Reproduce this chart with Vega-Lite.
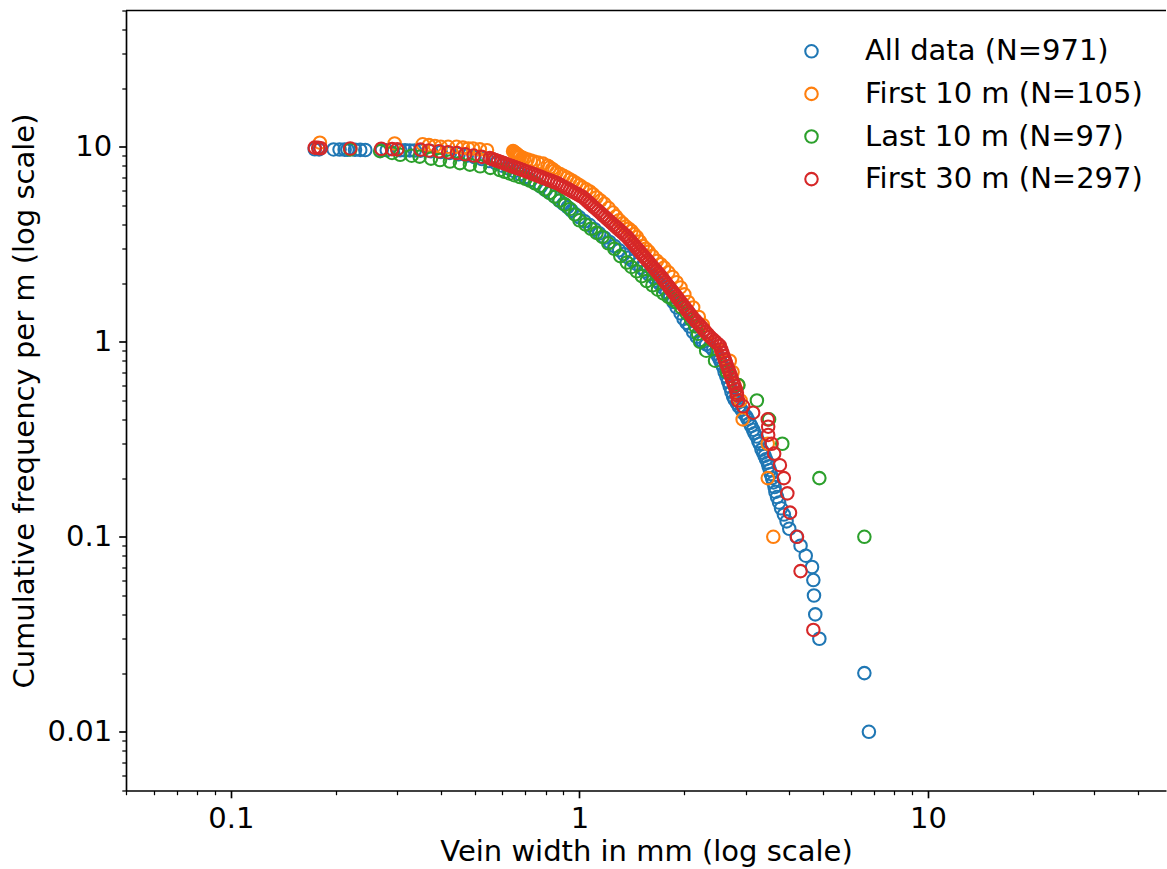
{
"$schema": "https://vega.github.io/schema/vega-lite/v6.json",
"width": 1040, "height": 780,
"autosize": {"type": "none"},
"padding": {"left": 126, "top": 10.5, "right": 1, "bottom": 78.5},
"background": "white",
"config": {"view": {"stroke": null}, "font": "DejaVu Sans"},
"datasets": {
"veins": [
{"series":"All data (N=971)","width":0.174,"freq":9.71},{"series":"All data (N=971)","width":0.179,"freq":9.70},{"series":"All data (N=971)","width":0.197,"freq":9.69},{"series":"All data (N=971)","width":0.205,"freq":9.68},{"series":"All data (N=971)","width":0.212,"freq":9.67},{"series":"All data (N=971)","width":0.216,"freq":9.66},{"series":"All data (N=971)","width":0.227,"freq":9.65},{"series":"All data (N=971)","width":0.235,"freq":9.64},{"series":"All data (N=971)","width":0.243,"freq":9.63},{"series":"All data (N=971)","width":0.271,"freq":9.62},{"series":"All data (N=971)","width":0.280,"freq":9.61},{"series":"All data (N=971)","width":0.306,"freq":9.60},{"series":"All data (N=971)","width":0.316,"freq":9.59},{"series":"All data (N=971)","width":0.326,"freq":9.58},{"series":"All data (N=971)","width":0.337,"freq":9.57},
{"series":"All data (N=971)","width":0.35,"freq":9.55},{"series":"All data (N=971)","width":0.375,"freq":9.48},{"series":"All data (N=971)","width":0.40,"freq":9.4},{"series":"All data (N=971)","width":0.425,"freq":9.3},{"series":"All data (N=971)","width":0.45,"freq":9.15},{"series":"All data (N=971)","width":0.475,"freq":9.0},{"series":"All data (N=971)","width":0.50,"freq":8.85},{"series":"All data (N=971)","width":0.525,"freq":8.65},{"series":"All data (N=971)","width":0.55,"freq":8.45},{"series":"All data (N=971)","width":0.575,"freq":8.25},{"series":"All data (N=971)","width":0.60,"freq":8.0},{"series":"All data (N=971)","width":0.625,"freq":7.75},{"series":"All data (N=971)","width":0.65,"freq":7.5},{"series":"All data (N=971)","width":0.675,"freq":7.25},{"series":"All data (N=971)","width":0.70,"freq":7.0},{"series":"All data (N=971)","width":0.725,"freq":6.75},{"series":"All data (N=971)","width":0.75,"freq":6.5},{"series":"All data (N=971)","width":0.775,"freq":6.25},{"series":"All data (N=971)","width":0.80,"freq":6.0},{"series":"All data (N=971)","width":0.825,"freq":5.8},{"series":"All data (N=971)","width":0.85,"freq":5.55},{"series":"All data (N=971)","width":0.875,"freq":5.3},{"series":"All data (N=971)","width":0.90,"freq":5.1},{"series":"All data (N=971)","width":0.925,"freq":4.9},{"series":"All data (N=971)","width":0.95,"freq":4.7},{"series":"All data (N=971)","width":0.975,"freq":4.5},{"series":"All data (N=971)","width":1.0,"freq":4.35},{"series":"All data (N=971)","width":1.035,"freq":4.15},{"series":"All data (N=971)","width":1.07,"freq":3.97},{"series":"All data (N=971)","width":1.105,"freq":3.78},{"series":"All data (N=971)","width":1.14,"freq":3.6},{"series":"All data (N=971)","width":1.18,"freq":3.42},{"series":"All data (N=971)","width":1.22,"freq":3.25},{"series":"All data (N=971)","width":1.26,"freq":3.1},{"series":"All data (N=971)","width":1.30,"freq":2.95},{"series":"All data (N=971)","width":1.34,"freq":2.82},{"series":"All data (N=971)","width":1.38,"freq":2.7},{"series":"All data (N=971)","width":1.42,"freq":2.6},{"series":"All data (N=971)","width":1.46,"freq":2.5},{"series":"All data (N=971)","width":1.50,"freq":2.4},{"series":"All data (N=971)","width":1.54,"freq":2.3},{"series":"All data (N=971)","width":1.58,"freq":2.22},{"series":"All data (N=971)","width":1.624,"freq":2.15},{"series":"All data (N=971)","width":1.66,"freq":2.06},{"series":"All data (N=971)","width":1.70,"freq":1.98},{"series":"All data (N=971)","width":1.74,"freq":1.89},{"series":"All data (N=971)","width":1.78,"freq":1.8},{"series":"All data (N=971)","width":1.82,"freq":1.7},{"series":"All data (N=971)","width":1.86,"freq":1.6},{"series":"All data (N=971)","width":1.90,"freq":1.5},{"series":"All data (N=971)","width":1.95,"freq":1.4},{"series":"All data (N=971)","width":1.99,"freq":1.31},{"series":"All data (N=971)","width":2.03,"freq":1.25},{"series":"All data (N=971)","width":2.07,"freq":1.2},{"series":"All data (N=971)","width":2.12,"freq":1.12},{"series":"All data (N=971)","width":2.17,"freq":1.06},{"series":"All data (N=971)","width":2.22,"freq":1.02},{"series":"All data (N=971)","width":2.26,"freq":1.0},{"series":"All data (N=971)","width":2.31,"freq":0.97},{"series":"All data (N=971)","width":2.37,"freq":0.945},{"series":"All data (N=971)","width":2.42,"freq":0.91},{"series":"All data (N=971)","width":2.47,"freq":0.874},{"series":"All data (N=971)","width":2.50,"freq":0.84},{"series":"All data (N=971)","width":2.53,"freq":0.808},{"series":"All data (N=971)","width":2.555,"freq":0.775},{"series":"All data (N=971)","width":2.58,"freq":0.746},{"series":"All data (N=971)","width":2.61,"freq":0.70},{"series":"All data (N=971)","width":2.64,"freq":0.663},{"series":"All data (N=971)","width":2.67,"freq":0.625},{"series":"All data (N=971)","width":2.70,"freq":0.59},{"series":"All data (N=971)","width":2.73,"freq":0.555},{"series":"All data (N=971)","width":2.76,"freq":0.524},{"series":"All data (N=971)","width":2.79,"freq":0.505},{"series":"All data (N=971)","width":2.83,"freq":0.485},{"series":"All data (N=971)","width":2.87,"freq":0.465},{"series":"All data (N=971)","width":2.92,"freq":0.448},{"series":"All data (N=971)","width":2.96,"freq":0.43},{"series":"All data (N=971)","width":3.01,"freq":0.414},{"series":"All data (N=971)","width":3.04,"freq":0.40},{"series":"All data (N=971)","width":3.08,"freq":0.383},{"series":"All data (N=971)","width":3.11,"freq":0.37},{"series":"All data (N=971)","width":3.15,"freq":0.354},{"series":"All data (N=971)","width":3.18,"freq":0.34},{"series":"All data (N=971)","width":3.22,"freq":0.327},{"series":"All data (N=971)","width":3.26,"freq":0.31},{"series":"All data (N=971)","width":3.29,"freq":0.30},{"series":"All data (N=971)","width":3.33,"freq":0.28},{"series":"All data (N=971)","width":3.37,"freq":0.27},{"series":"All data (N=971)","width":3.40,"freq":0.26},{"series":"All data (N=971)","width":3.43,"freq":0.25},{"series":"All data (N=971)","width":3.47,"freq":0.24},{"series":"All data (N=971)","width":3.49,"freq":0.23},{"series":"All data (N=971)","width":3.52,"freq":0.22},{"series":"All data (N=971)","width":3.54,"freq":0.21},{"series":"All data (N=971)","width":3.57,"freq":0.20},{"series":"All data (N=971)","width":3.60,"freq":0.19},{"series":"All data (N=971)","width":3.63,"freq":0.18},{"series":"All data (N=971)","width":3.65,"freq":0.17},{"series":"All data (N=971)","width":3.69,"freq":0.16},{"series":"All data (N=971)","width":3.74,"freq":0.15},{"series":"All data (N=971)","width":3.79,"freq":0.14},{"series":"All data (N=971)","width":3.86,"freq":0.13},{"series":"All data (N=971)","width":3.93,"freq":0.12},{"series":"All data (N=971)","width":4.0,"freq":0.11},{"series":"All data (N=971)","width":4.2,"freq":0.10},{"series":"All data (N=971)","width":4.31,"freq":0.09},{"series":"All data (N=971)","width":4.46,"freq":0.08},{"series":"All data (N=971)","width":4.65,"freq":0.07},{"series":"All data (N=971)","width":4.69,"freq":0.06},{"series":"All data (N=971)","width":4.71,"freq":0.05},{"series":"All data (N=971)","width":4.75,"freq":0.04},{"series":"All data (N=971)","width":4.88,"freq":0.03},{"series":"All data (N=971)","width":6.57,"freq":0.02},{"series":"All data (N=971)","width":6.77,"freq":0.01},
{"series":"First 10 m (N=105)","width":0.18,"freq":10.5},{"series":"First 10 m (N=105)","width":0.295,"freq":10.4},{"series":"First 10 m (N=105)","width":0.355,"freq":10.3},{"series":"First 10 m (N=105)","width":0.37,"freq":10.2},{"series":"First 10 m (N=105)","width":0.385,"freq":10.1},{"series":"First 10 m (N=105)","width":0.40,"freq":10.0},{"series":"First 10 m (N=105)","width":0.42,"freq":10.0},{"series":"First 10 m (N=105)","width":0.444,"freq":10.0},{"series":"First 10 m (N=105)","width":0.463,"freq":9.9},{"series":"First 10 m (N=105)","width":0.48,"freq":9.8},{"series":"First 10 m (N=105)","width":0.495,"freq":9.8},{"series":"First 10 m (N=105)","width":0.518,"freq":9.7},{"series":"First 10 m (N=105)","width":0.543,"freq":9.6},{"series":"First 10 m (N=105)","width":0.645,"freq":9.5},{"series":"First 10 m (N=105)","width":0.65,"freq":9.4},{"series":"First 10 m (N=105)","width":0.655,"freq":9.3},{"series":"First 10 m (N=105)","width":0.66,"freq":9.2},{"series":"First 10 m (N=105)","width":0.665,"freq":9.1},{"series":"First 10 m (N=105)","width":0.67,"freq":9.0},{"series":"First 10 m (N=105)","width":0.675,"freq":8.9},{"series":"First 10 m (N=105)","width":0.685,"freq":8.8},{"series":"First 10 m (N=105)","width":0.695,"freq":8.7},{"series":"First 10 m (N=105)","width":0.71,"freq":8.6},{"series":"First 10 m (N=105)","width":0.725,"freq":8.5},{"series":"First 10 m (N=105)","width":0.74,"freq":8.4},{"series":"First 10 m (N=105)","width":0.76,"freq":8.3},{"series":"First 10 m (N=105)","width":0.786,"freq":8.2},{"series":"First 10 m (N=105)","width":0.81,"freq":8.0},{"series":"First 10 m (N=105)","width":0.822,"freq":7.85},{"series":"First 10 m (N=105)","width":0.835,"freq":7.7},{"series":"First 10 m (N=105)","width":0.847,"freq":7.55},{"series":"First 10 m (N=105)","width":0.86,"freq":7.4},{"series":"First 10 m (N=105)","width":0.88,"freq":7.25},{"series":"First 10 m (N=105)","width":0.90,"freq":7.1},{"series":"First 10 m (N=105)","width":0.92,"freq":6.95},{"series":"First 10 m (N=105)","width":0.94,"freq":6.8},{"series":"First 10 m (N=105)","width":0.96,"freq":6.65},{"series":"First 10 m (N=105)","width":0.98,"freq":6.5},{"series":"First 10 m (N=105)","width":1.0,"freq":6.35},{"series":"First 10 m (N=105)","width":1.02,"freq":6.2},{"series":"First 10 m (N=105)","width":1.045,"freq":6.05},{"series":"First 10 m (N=105)","width":1.07,"freq":5.9},{"series":"First 10 m (N=105)","width":1.095,"freq":5.7},{"series":"First 10 m (N=105)","width":1.12,"freq":5.5},{"series":"First 10 m (N=105)","width":1.15,"freq":5.3},{"series":"First 10 m (N=105)","width":1.18,"freq":5.1},{"series":"First 10 m (N=105)","width":1.213,"freq":4.85},{"series":"First 10 m (N=105)","width":1.247,"freq":4.6},{"series":"First 10 m (N=105)","width":1.273,"freq":4.4},{"series":"First 10 m (N=105)","width":1.30,"freq":4.2},{"series":"First 10 m (N=105)","width":1.33,"freq":4.05},{"series":"First 10 m (N=105)","width":1.36,"freq":3.9},{"series":"First 10 m (N=105)","width":1.385,"freq":3.8},{"series":"First 10 m (N=105)","width":1.41,"freq":3.7},{"series":"First 10 m (N=105)","width":1.435,"freq":3.57},{"series":"First 10 m (N=105)","width":1.461,"freq":3.45},{"series":"First 10 m (N=105)","width":1.49,"freq":3.27},{"series":"First 10 m (N=105)","width":1.52,"freq":3.1},{"series":"First 10 m (N=105)","width":1.55,"freq":3.0},{"series":"First 10 m (N=105)","width":1.58,"freq":2.9},{"series":"First 10 m (N=105)","width":1.62,"freq":2.75},{"series":"First 10 m (N=105)","width":1.668,"freq":2.6},{"series":"First 10 m (N=105)","width":1.71,"freq":2.5},{"series":"First 10 m (N=105)","width":1.75,"freq":2.4},{"series":"First 10 m (N=105)","width":1.80,"freq":2.27},{"series":"First 10 m (N=105)","width":1.85,"freq":2.15},{"series":"First 10 m (N=105)","width":1.90,"freq":2.02},{"series":"First 10 m (N=105)","width":1.95,"freq":1.9},{"series":"First 10 m (N=105)","width":2.0,"freq":1.75},{"series":"First 10 m (N=105)","width":2.05,"freq":1.6},{"series":"First 10 m (N=105)","width":2.12,"freq":1.5},{"series":"First 10 m (N=105)","width":2.2,"freq":1.34},{"series":"First 10 m (N=105)","width":2.26,"freq":1.22},{"series":"First 10 m (N=105)","width":2.32,"freq":1.1},{"series":"First 10 m (N=105)","width":2.45,"freq":1.0},{"series":"First 10 m (N=105)","width":2.55,"freq":0.9},{"series":"First 10 m (N=105)","width":2.70,"freq":0.8},{"series":"First 10 m (N=105)","width":2.75,"freq":0.7},{"series":"First 10 m (N=105)","width":2.85,"freq":0.6},{"series":"First 10 m (N=105)","width":2.9,"freq":0.5},{"series":"First 10 m (N=105)","width":2.94,"freq":0.4},{"series":"First 10 m (N=105)","width":3.47,"freq":0.3},{"series":"First 10 m (N=105)","width":3.47,"freq":0.2},{"series":"First 10 m (N=105)","width":3.6,"freq":0.1},
{"series":"Last 10 m (N=97)","width":0.22,"freq":9.7},{"series":"Last 10 m (N=97)","width":0.268,"freq":9.5},{"series":"Last 10 m (N=97)","width":0.29,"freq":9.3},{"series":"Last 10 m (N=97)","width":0.306,"freq":9.1},{"series":"Last 10 m (N=97)","width":0.33,"freq":9.0},{"series":"Last 10 m (N=97)","width":0.348,"freq":8.9},{"series":"Last 10 m (N=97)","width":0.375,"freq":8.7},{"series":"Last 10 m (N=97)","width":0.398,"freq":8.55},{"series":"Last 10 m (N=97)","width":0.425,"freq":8.4},{"series":"Last 10 m (N=97)","width":0.454,"freq":8.25},{"series":"Last 10 m (N=97)","width":0.485,"freq":8.1},{"series":"Last 10 m (N=97)","width":0.519,"freq":7.95},{"series":"Last 10 m (N=97)","width":0.555,"freq":7.8},{"series":"Last 10 m (N=97)","width":0.591,"freq":7.6},{"series":"Last 10 m (N=97)","width":0.61,"freq":7.45},{"series":"Last 10 m (N=97)","width":0.63,"freq":7.3},{"series":"Last 10 m (N=97)","width":0.65,"freq":7.15},{"series":"Last 10 m (N=97)","width":0.675,"freq":7.0},{"series":"Last 10 m (N=97)","width":0.70,"freq":6.85},{"series":"Last 10 m (N=97)","width":0.72,"freq":6.7},{"series":"Last 10 m (N=97)","width":0.745,"freq":6.5},{"series":"Last 10 m (N=97)","width":0.77,"freq":6.3},{"series":"Last 10 m (N=97)","width":0.795,"freq":6.05},{"series":"Last 10 m (N=97)","width":0.82,"freq":5.8},{"series":"Last 10 m (N=97)","width":0.85,"freq":5.55},{"series":"Last 10 m (N=97)","width":0.877,"freq":5.3},{"series":"Last 10 m (N=97)","width":0.91,"freq":5.05},{"series":"Last 10 m (N=97)","width":0.94,"freq":4.8},{"series":"Last 10 m (N=97)","width":0.97,"freq":4.5},{"series":"Last 10 m (N=97)","width":1.0,"freq":4.2},{"series":"Last 10 m (N=97)","width":1.04,"freq":4.0},{"series":"Last 10 m (N=97)","width":1.08,"freq":3.8},{"series":"Last 10 m (N=97)","width":1.12,"freq":3.62},{"series":"Last 10 m (N=97)","width":1.164,"freq":3.45},{"series":"Last 10 m (N=97)","width":1.21,"freq":3.2},{"series":"Last 10 m (N=97)","width":1.26,"freq":3.0},{"series":"Last 10 m (N=97)","width":1.31,"freq":2.75},{"series":"Last 10 m (N=97)","width":1.368,"freq":2.55},{"series":"Last 10 m (N=97)","width":1.41,"freq":2.42},{"series":"Last 10 m (N=97)","width":1.46,"freq":2.3},{"series":"Last 10 m (N=97)","width":1.51,"freq":2.17},{"series":"Last 10 m (N=97)","width":1.56,"freq":2.05},{"series":"Last 10 m (N=97)","width":1.62,"freq":1.95},{"series":"Last 10 m (N=97)","width":1.68,"freq":1.85},{"series":"Last 10 m (N=97)","width":1.74,"freq":1.77},{"series":"Last 10 m (N=97)","width":1.80,"freq":1.7},{"series":"Last 10 m (N=97)","width":1.85,"freq":1.65},{"series":"Last 10 m (N=97)","width":1.90,"freq":1.6},{"series":"Last 10 m (N=97)","width":1.96,"freq":1.5},{"series":"Last 10 m (N=97)","width":2.03,"freq":1.4},{"series":"Last 10 m (N=97)","width":2.09,"freq":1.3},{"series":"Last 10 m (N=97)","width":2.15,"freq":1.2},{"series":"Last 10 m (N=97)","width":2.19,"freq":1.1},{"series":"Last 10 m (N=97)","width":2.22,"freq":1.0},{"series":"Last 10 m (N=97)","width":2.31,"freq":0.9},{"series":"Last 10 m (N=97)","width":2.45,"freq":0.8},{"series":"Last 10 m (N=97)","width":2.65,"freq":0.7},{"series":"Last 10 m (N=97)","width":2.86,"freq":0.6},{"series":"Last 10 m (N=97)","width":3.23,"freq":0.5},{"series":"Last 10 m (N=97)","width":3.5,"freq":0.4},{"series":"Last 10 m (N=97)","width":3.82,"freq":0.3},{"series":"Last 10 m (N=97)","width":4.88,"freq":0.2},{"series":"Last 10 m (N=97)","width":6.57,"freq":0.1},
{"series":"First 30 m (N=297)","width":0.174,"freq":9.9},{"series":"First 30 m (N=297)","width":0.178,"freq":9.87},{"series":"First 30 m (N=297)","width":0.181,"freq":9.83},{"series":"First 30 m (N=297)","width":0.22,"freq":9.8},{"series":"First 30 m (N=297)","width":0.27,"freq":9.77},{"series":"First 30 m (N=297)","width":0.29,"freq":9.73},{"series":"First 30 m (N=297)","width":0.30,"freq":9.7},
{"series":"First 30 m (N=297)","width":0.35,"freq":9.67},{"series":"First 30 m (N=297)","width":0.37,"freq":9.57},{"series":"First 30 m (N=297)","width":0.395,"freq":9.48},{"series":"First 30 m (N=297)","width":0.42,"freq":9.38},{"series":"First 30 m (N=297)","width":0.445,"freq":9.29},{"series":"First 30 m (N=297)","width":0.47,"freq":9.15},{"series":"First 30 m (N=297)","width":0.497,"freq":9.02},{"series":"First 30 m (N=297)","width":0.524,"freq":8.88},{"series":"First 30 m (N=297)","width":0.553,"freq":8.75},{"series":"First 30 m (N=297)","width":0.563,"freq":8.65},{"series":"First 30 m (N=297)","width":0.573,"freq":8.55},{"series":"First 30 m (N=297)","width":0.584,"freq":8.45},{"series":"First 30 m (N=297)","width":0.595,"freq":8.35},{"series":"First 30 m (N=297)","width":0.606,"freq":8.25},{"series":"First 30 m (N=297)","width":0.617,"freq":8.15},{"series":"First 30 m (N=297)","width":0.628,"freq":8.05},{"series":"First 30 m (N=297)","width":0.639,"freq":7.96},{"series":"First 30 m (N=297)","width":0.651,"freq":7.87},{"series":"First 30 m (N=297)","width":0.663,"freq":7.78},{"series":"First 30 m (N=297)","width":0.675,"freq":7.69},{"series":"First 30 m (N=297)","width":0.688,"freq":7.6},{"series":"First 30 m (N=297)","width":0.701,"freq":7.5},{"series":"First 30 m (N=297)","width":0.714,"freq":7.41},{"series":"First 30 m (N=297)","width":0.728,"freq":7.31},{"series":"First 30 m (N=297)","width":0.742,"freq":7.22},{"series":"First 30 m (N=297)","width":0.756,"freq":7.13},{"series":"First 30 m (N=297)","width":0.770,"freq":7.04},{"series":"First 30 m (N=297)","width":0.784,"freq":6.95},{"series":"First 30 m (N=297)","width":0.799,"freq":6.86},{"series":"First 30 m (N=297)","width":0.814,"freq":6.77},{"series":"First 30 m (N=297)","width":0.830,"freq":6.69},{"series":"First 30 m (N=297)","width":0.846,"freq":6.6},{"series":"First 30 m (N=297)","width":0.862,"freq":6.52},{"series":"First 30 m (N=297)","width":0.877,"freq":6.41},{"series":"First 30 m (N=297)","width":0.892,"freq":6.31},{"series":"First 30 m (N=297)","width":0.907,"freq":6.2},{"series":"First 30 m (N=297)","width":0.923,"freq":6.10},{"series":"First 30 m (N=297)","width":0.939,"freq":6.0},{"series":"First 30 m (N=297)","width":0.955,"freq":5.90},{"series":"First 30 m (N=297)","width":0.972,"freq":5.8},{"series":"First 30 m (N=297)","width":0.989,"freq":5.71},{"series":"First 30 m (N=297)","width":1.006,"freq":5.61},{"series":"First 30 m (N=297)","width":1.023,"freq":5.52},{"series":"First 30 m (N=297)","width":1.038,"freq":5.39},{"series":"First 30 m (N=297)","width":1.053,"freq":5.27},{"series":"First 30 m (N=297)","width":1.068,"freq":5.15},{"series":"First 30 m (N=297)","width":1.084,"freq":5.03},{"series":"First 30 m (N=297)","width":1.1,"freq":4.91},{"series":"First 30 m (N=297)","width":1.116,"freq":4.80},{"series":"First 30 m (N=297)","width":1.132,"freq":4.69},{"series":"First 30 m (N=297)","width":1.149,"freq":4.58},{"series":"First 30 m (N=297)","width":1.166,"freq":4.47},{"series":"First 30 m (N=297)","width":1.183,"freq":4.37},{"series":"First 30 m (N=297)","width":1.2,"freq":4.27},{"series":"First 30 m (N=297)","width":1.218,"freq":4.17},{"series":"First 30 m (N=297)","width":1.236,"freq":4.07},{"series":"First 30 m (N=297)","width":1.254,"freq":3.98},{"series":"First 30 m (N=297)","width":1.272,"freq":3.89},{"series":"First 30 m (N=297)","width":1.291,"freq":3.80},{"series":"First 30 m (N=297)","width":1.31,"freq":3.71},{"series":"First 30 m (N=297)","width":1.329,"freq":3.63},{"series":"First 30 m (N=297)","width":1.349,"freq":3.54},{"series":"First 30 m (N=297)","width":1.369,"freq":3.46},{"series":"First 30 m (N=297)","width":1.386,"freq":3.37},{"series":"First 30 m (N=297)","width":1.403,"freq":3.29},{"series":"First 30 m (N=297)","width":1.42,"freq":3.21},{"series":"First 30 m (N=297)","width":1.437,"freq":3.13},{"series":"First 30 m (N=297)","width":1.454,"freq":3.05},{"series":"First 30 m (N=297)","width":1.472,"freq":2.98},{"series":"First 30 m (N=297)","width":1.49,"freq":2.9},{"series":"First 30 m (N=297)","width":1.508,"freq":2.83},{"series":"First 30 m (N=297)","width":1.526,"freq":2.76},{"series":"First 30 m (N=297)","width":1.545,"freq":2.69},{"series":"First 30 m (N=297)","width":1.564,"freq":2.62},{"series":"First 30 m (N=297)","width":1.583,"freq":2.56},{"series":"First 30 m (N=297)","width":1.602,"freq":2.49},{"series":"First 30 m (N=297)","width":1.622,"freq":2.43},{"series":"First 30 m (N=297)","width":1.641,"freq":2.37},{"series":"First 30 m (N=297)","width":1.661,"freq":2.31},{"series":"First 30 m (N=297)","width":1.681,"freq":2.25},{"series":"First 30 m (N=297)","width":1.702,"freq":2.2},{"series":"First 30 m (N=297)","width":1.723,"freq":2.14},{"series":"First 30 m (N=297)","width":1.744,"freq":2.08},{"series":"First 30 m (N=297)","width":1.765,"freq":2.02},{"series":"First 30 m (N=297)","width":1.786,"freq":1.966},{"series":"First 30 m (N=297)","width":1.808,"freq":1.91},{"series":"First 30 m (N=297)","width":1.830,"freq":1.858},{"series":"First 30 m (N=297)","width":1.852,"freq":1.807},{"series":"First 30 m (N=297)","width":1.875,"freq":1.757},{"series":"First 30 m (N=297)","width":1.898,"freq":1.708},{"series":"First 30 m (N=297)","width":1.921,"freq":1.661},{"series":"First 30 m (N=297)","width":1.944,"freq":1.615},{"series":"First 30 m (N=297)","width":1.968,"freq":1.570},{"series":"First 30 m (N=297)","width":1.992,"freq":1.526},{"series":"First 30 m (N=297)","width":2.016,"freq":1.484},{"series":"First 30 m (N=297)","width":2.041,"freq":1.443},{"series":"First 30 m (N=297)","width":2.066,"freq":1.403},{"series":"First 30 m (N=297)","width":2.091,"freq":1.364},{"series":"First 30 m (N=297)","width":2.117,"freq":1.326},{"series":"First 30 m (N=297)","width":2.148,"freq":1.29},{"series":"First 30 m (N=297)","width":2.179,"freq":1.254},{"series":"First 30 m (N=297)","width":2.211,"freq":1.22},{"series":"First 30 m (N=297)","width":2.243,"freq":1.186},{"series":"First 30 m (N=297)","width":2.274,"freq":1.153},{"series":"First 30 m (N=297)","width":2.305,"freq":1.121},{"series":"First 30 m (N=297)","width":2.337,"freq":1.09},{"series":"First 30 m (N=297)","width":2.37,"freq":1.06},{"series":"First 30 m (N=297)","width":2.41,"freq":1.032},{"series":"First 30 m (N=297)","width":2.45,"freq":1.005},{"series":"First 30 m (N=297)","width":2.49,"freq":0.978},{"series":"First 30 m (N=297)","width":2.53,"freq":0.953},{"series":"First 30 m (N=297)","width":2.55,"freq":0.915},{"series":"First 30 m (N=297)","width":2.57,"freq":0.88},{"series":"First 30 m (N=297)","width":2.59,"freq":0.846},{"series":"First 30 m (N=297)","width":2.61,"freq":0.813},{"series":"First 30 m (N=297)","width":2.632,"freq":0.781},{"series":"First 30 m (N=297)","width":2.655,"freq":0.75},{"series":"First 30 m (N=297)","width":2.677,"freq":0.72},{"series":"First 30 m (N=297)","width":2.70,"freq":0.693},{"series":"First 30 m (N=297)","width":2.72,"freq":0.668},{"series":"First 30 m (N=297)","width":2.74,"freq":0.643},{"series":"First 30 m (N=297)","width":2.765,"freq":0.617},{"series":"First 30 m (N=297)","width":2.79,"freq":0.593},{"series":"First 30 m (N=297)","width":2.81,"freq":0.57},{"series":"First 30 m (N=297)","width":2.83,"freq":0.547},{"series":"First 30 m (N=297)","width":2.83,"freq":0.533},{"series":"First 30 m (N=297)","width":2.85,"freq":0.5},{"series":"First 30 m (N=297)","width":2.95,"freq":0.467},{"series":"First 30 m (N=297)","width":3.15,"freq":0.433},{"series":"First 30 m (N=297)","width":3.47,"freq":0.4},{"series":"First 30 m (N=297)","width":3.48,"freq":0.367},{"series":"First 30 m (N=297)","width":3.48,"freq":0.333},{"series":"First 30 m (N=297)","width":3.56,"freq":0.3},{"series":"First 30 m (N=297)","width":3.62,"freq":0.267},{"series":"First 30 m (N=297)","width":3.76,"freq":0.233},{"series":"First 30 m (N=297)","width":3.86,"freq":0.2},{"series":"First 30 m (N=297)","width":3.95,"freq":0.167},{"series":"First 30 m (N=297)","width":4.02,"freq":0.133},{"series":"First 30 m (N=297)","width":4.21,"freq":0.1},{"series":"First 30 m (N=297)","width":4.31,"freq":0.0667},{"series":"First 30 m (N=297)","width":4.69,"freq":0.0333}
]
},
"layer": [
{
"data": {"name": "veins"},
"mark": {"type": "point", "shape": "circle", "filled": false, "size": 156, "strokeWidth": 2.08, "opacity": 1},
"encoding": {
"x": {"field": "width", "type": "quantitative",
 "scale": {"type": "log", "domain": [0.05, 48.2], "nice": false},
 "axis": {"title": "Vein width in mm (log scale)",
  "values": [0.05,0.06,0.07,0.08,0.09,0.1,0.2,0.3,0.4,0.5,0.6,0.7,0.8,0.9,1,2,3,4,5,6,7,8,9,10,20,30,40],
  "labelExpr": "abs(log(datum.value)/LN10 - round(log(datum.value)/LN10)) < 0.001 ? format(datum.value, '~g') : ''",
  "labelOverlap": false, "labelFlush": false, "grid": false,
  "labelFont": "DejaVu Sans", "labelFontSize": 29, "labelColor": "black", "labelPadding": 7,
  "tickColor": "black",
  "tickSize": {"condition": {"test": "abs(log(datum.value)/LN10 - round(log(datum.value)/LN10)) < 0.001", "value": 7.3}, "value": 4.2},
  "tickWidth": {"condition": {"test": "abs(log(datum.value)/LN10 - round(log(datum.value)/LN10)) < 0.001", "value": 1.67}, "value": 1.25},
  "domainColor": "black", "domainWidth": 1.67,
  "titleFont": "DejaVu Sans", "titleFontSize": 29, "titleFontWeight": "normal", "titleColor": "black", "titlePadding": 4}},
"y": {"field": "freq", "type": "quantitative",
 "scale": {"type": "log", "domain": [0.005, 50], "nice": false},
 "axis": {"title": "Cumulative frequency per m (log scale)",
  "values": [0.005,0.006,0.007,0.008,0.009,0.01,0.02,0.03,0.04,0.05,0.06,0.07,0.08,0.09,0.1,0.2,0.3,0.4,0.5,0.6,0.7,0.8,0.9,1,2,3,4,5,6,7,8,9,10,20,30,40,50],
  "labelExpr": "abs(log(datum.value)/LN10 - round(log(datum.value)/LN10)) < 0.001 ? format(datum.value, '~g') : ''",
  "labelOverlap": false, "labelFlush": false, "grid": false,
  "labelFont": "DejaVu Sans", "labelFontSize": 29, "labelColor": "black", "labelPadding": 7,
  "tickColor": "black",
  "tickSize": {"condition": {"test": "abs(log(datum.value)/LN10 - round(log(datum.value)/LN10)) < 0.001", "value": 7.3}, "value": 4.2},
  "tickWidth": {"condition": {"test": "abs(log(datum.value)/LN10 - round(log(datum.value)/LN10)) < 0.001", "value": 1.67}, "value": 1.25},
  "domainColor": "black", "domainWidth": 1.67,
  "titleFont": "DejaVu Sans", "titleFontSize": 29, "titleFontWeight": "normal", "titleColor": "black", "titlePadding": 8}},
"color": {"field": "series", "type": "nominal",
 "scale": {"domain": ["All data (N=971)", "First 10 m (N=105)", "Last 10 m (N=97)", "First 30 m (N=297)"], "range": ["#1f77b4", "#ff7f0e", "#2ca02c", "#d62728"]},
 "legend": {"title": null, "orient": "none", "legendX": 671, "legendY": 26.3, "padding": 0,
  "labelFont": "DejaVu Sans", "labelFontSize": 29, "labelColor": "black", "labelLimit": 0,
  "symbolType": "circle", "symbolSize": 156, "symbolStrokeWidth": 2.08, "symbolFillColor": "transparent",
  "labelOffset": 39, "rowPadding": 12.6}}
}
},
{
"data": {"values": [{}]},
"mark": {"type": "rule", "color": "black", "strokeWidth": 1.67},
"encoding": {"y": {"datum": 50}}
}
]
}
